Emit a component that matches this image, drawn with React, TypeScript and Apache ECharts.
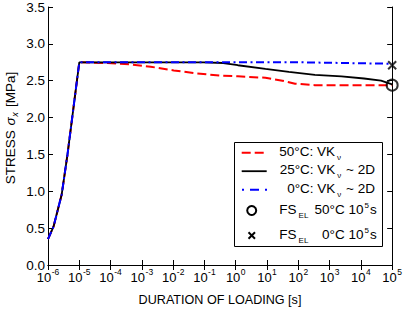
import React, { useEffect, useRef } from 'react';
import * as echarts from 'echarts';

const FONT = '"Liberation Sans", Arial, Helvetica, sans-serif';

// tick labels
const xTickExponents = [-6, -5, -4, -3, -2, -1, 0, 1, 2, 3, 4, 5];
const yTickValues = [0, 0.5, 1, 1.5, 2, 2.5, 3, 3.5];

// 50°C: VKν
const time50 = [1e-6, 1.5e-6, 2.75e-6, 4.2e-6, 1e-5, 8e-5, 4.5e-4, 1.9e-3, 1.05e-2, 5.5e-2, 0.31, 1.17, 8.9, 31, 79, 340, 1e5];
const stress50 = [0.35, 0.52, 0.96, 1.5, 2.75, 2.74, 2.72, 2.69, 2.64, 2.6, 2.57, 2.56, 2.54, 2.5, 2.46, 2.44, 2.44];

// 25°C: VKν ~ 2D
const time25 = [1e-6, 1.5e-6, 2.75e-6, 4.2e-6, 1e-5, 0.093, 0.4, 1.17, 8.9, 50, 340, 2400, 12600, 44000, 1e5];
const stress25 = [0.35, 0.52, 0.96, 1.5, 2.75, 2.75, 2.74, 2.71, 2.66, 2.62, 2.58, 2.56, 2.53, 2.5, 2.45];

// 0°C: VKν ~ 2D
const time0 = [1e-6, 1.5e-6, 2.75e-6, 4.2e-6, 1e-5, 100, 1e5];
const stress0 = [0.35, 0.52, 0.96, 1.5, 2.75, 2.75, 2.73];

// FS_EL points
const fsel50Time = [1e5];
const fsel50Stress = [2.44];
const fsel0Time = [1e5];
const fsel0Stress = [2.71];

const zip = (a: number[], b: number[]) => a.map((v, i) => [v, b[i]]);

const richLegend = {
  m: { fontSize: 13.5, fontFamily: FONT, lineHeight: 16, verticalAlign: 'top', padding: [3, 0, 0, 0], color: '#000' },
  sub: { fontSize: 8, fontFamily: FONT, lineHeight: 9, verticalAlign: 'top', padding: [12, 1, 0, 2], color: '#000' },
  sup: { fontSize: 8, fontFamily: FONT, lineHeight: 9, verticalAlign: 'top', padding: [2.5, 1, 0, 1], color: '#000' },
};

export default function App() {
  const ref = useRef<HTMLDivElement>(null);
  useEffect(() => {
    if (!ref.current) return;
    const chart = echarts.init(ref.current, null, { renderer: 'svg' });
    const axisLine = { show: true, lineStyle: { color: '#000', width: 1 } };
    const axisTick = { show: true, inside: true, length: 5, lineStyle: { color: '#000', width: 1 } };
    const xLog = {
      type: 'log',
      logBase: 10,
      min: Math.pow(10, xTickExponents[0]),
      max: Math.pow(10, xTickExponents[xTickExponents.length - 1]),
      interval: 1,
      axisLine,
      axisTick,
      minorTick: { show: false },
      splitLine: { show: false },
    };
    const yVal = {
      type: 'value',
      min: yTickValues[0],
      max: yTickValues[yTickValues.length - 1],
      interval: 0.5,
      axisLine,
      axisTick,
      splitLine: { show: false },
    };
    const textLeft = 279.3;
    const rows = [152.7, 171.2, 189.7, 210.5, 235.5];
    const option: any = {
      animation: false,
      grid: { left: 48, right: 9, top: 5, bottom: 46, containLabel: false },
      xAxis: [
        {
          ...xLog,
          position: 'bottom',
          axisLabel: {
            margin: 2,
            color: '#000',
            formatter: (v: number) => `{m|10}{sup|${Math.round(Math.log10(v))}}`,
            rich: {
              m: { fontSize: 13, fontFamily: FONT, lineHeight: 14, verticalAlign: 'top', padding: [4, 0, 0, 0], color: '#000' },
              sup: { fontSize: 8.5, fontFamily: FONT, lineHeight: 9, verticalAlign: 'top', padding: [0, 0, 0, 0.5], color: '#000' },
            },
            showMinLabel: true,
            showMaxLabel: true,
          },
        },
        { ...xLog, position: 'top', axisLabel: { show: false } },
      ],
      yAxis: [
        {
          ...yVal,
          position: 'left',
          axisLabel: {
            margin: 3,
            color: '#000',
            fontSize: 13.5,
            lineHeight: 11,
            fontFamily: FONT,
            formatter: (v: number) => v.toFixed(1),
          },
        },
        { ...yVal, position: 'right', axisLabel: { show: false } },
      ],
      series: [
        {
          type: 'line',
          name: '50°C: VKν',
          data: zip(time50, stress50),
          symbol: 'none',
          lineStyle: { color: '#ff0000', width: 2, type: [9, 4] },
          z: 2,
        },
        {
          type: 'line',
          name: '25°C: VKν ~ 2D',
          data: zip(time25, stress25),
          symbol: 'none',
          lineStyle: { color: '#000', width: 1.8, type: 'solid' },
          z: 3,
        },
        {
          type: 'line',
          name: '0°C: VKν ~ 2D',
          data: zip(time0, stress0),
          symbol: 'none',
          lineStyle: { color: '#0000ff', width: 2, type: [8, 3.5, 2, 3.5] },
          z: 4,
        },
        {
          type: 'scatter',
          name: 'FS_EL 50°C',
          data: zip(fsel50Time, fsel50Stress),
          symbol: 'circle',
          symbolSize: 11,
          clip: false,
          itemStyle: { color: 'rgba(0,0,0,0)', borderColor: '#000', borderWidth: 2 },
          z: 5,
        },
        {
          type: 'scatter',
          name: 'FS_EL 0°C',
          data: zip(fsel0Time, fsel0Stress),
          symbol: 'path://M0,0L8,8M8,0L0,8',
          symbolSize: 8,
          clip: false,
          itemStyle: { color: 'rgba(0,0,0,0)', borderColor: '#000', borderWidth: 2 },
          z: 5,
        },
      ],
      graphic: [
        {
          type: 'text',
          x: 220,
          y: 300,
          style: {
            text: 'DURATION OF LOADING [s]',
            fontSize: 12.6,
            fontFamily: FONT,
            fill: '#000',
            align: 'center',
            verticalAlign: 'middle',
          },
        },
        {
          type: 'text',
          x: 8.5,
          y: 128,
          rotation: Math.PI / 2,
          style: {
            text: '{m|STRESS }{i|σ}{isub|x}{m| [MPa]}',
            align: 'center',
            verticalAlign: 'middle',
            rich: {
              m: { fontSize: 13.5, fontFamily: FONT, lineHeight: 15, verticalAlign: 'top', padding: [2, 0, 0, 0], fill: '#000' },
              i: { fontSize: 13.5, fontFamily: FONT, fontStyle: 'italic', lineHeight: 15, verticalAlign: 'top', padding: [2, 0, 0, 1], fill: '#000' },
              isub: { fontSize: 9, fontFamily: FONT, fontStyle: 'italic', lineHeight: 10, verticalAlign: 'top', padding: [9, 1.5, 0, 0.5], fill: '#000' },
            },
          },
        },
        {
          type: 'rect',
          shape: { x: 234.5, y: 142.5, width: 148, height: 104 },
          style: { fill: '#fff', stroke: '#000', lineWidth: 1 },
          z: 10,
        },
        {
          type: 'line',
          shape: { x1: 241.7, y1: rows[0], x2: 266.7, y2: rows[0] },
          style: { stroke: '#ff0000', lineWidth: 2, lineDash: [9, 4] },
          z: 11,
        },
        {
          type: 'line',
          shape: { x1: 241.7, y1: rows[1], x2: 266.7, y2: rows[1] },
          style: { stroke: '#000', lineWidth: 1.8 },
          z: 11,
        },
        {
          type: 'line',
          shape: { x1: 242, y1: rows[2], x2: 268, y2: rows[2] },
          style: { stroke: '#0000ff', lineWidth: 2, lineDash: [2, 6, 9, 6] },
          z: 11,
        },
        {
          type: 'circle',
          shape: { cx: 251.7, cy: rows[3], r: 4.5 },
          style: { fill: 'none', stroke: '#000', lineWidth: 2 },
          z: 11,
        },
        {
          type: 'line',
          shape: { x1: 248.5, y1: rows[4] - 3.2, x2: 255, y2: rows[4] + 3.2 },
          style: { stroke: '#000', lineWidth: 2 },
          z: 11,
        },
        {
          type: 'line',
          shape: { x1: 255, y1: rows[4] - 3.2, x2: 248.5, y2: rows[4] + 3.2 },
          style: { stroke: '#000', lineWidth: 2 },
          z: 11,
        },
        {
          type: 'text',
          x: textLeft,
          y: rows[0] - 11.5,
          style: { text: '{m|50°C: VK}{sub|ν}', align: 'left', verticalAlign: 'top', rich: richLegend },
          z: 11,
        },
        {
          type: 'text',
          x: 375,
          y: rows[1] - 11.5,
          style: { text: '{m|25°C: VK}{sub|ν}{m| ~ 2D}', align: 'right', verticalAlign: 'top', rich: richLegend },
          z: 11,
        },
        {
          type: 'text',
          x: 375,
          y: rows[2] - 11.5,
          style: { text: '{m|0°C: VK}{sub|ν}{m| ~ 2D}', align: 'right', verticalAlign: 'top', rich: richLegend },
          z: 11,
        },
        {
          type: 'text',
          x: textLeft,
          y: rows[3] - 11.5,
          style: { text: '{m|FS}{sub|EL}', align: 'left', verticalAlign: 'top', rich: richLegend },
          z: 11,
        },
        {
          type: 'text',
          x: 376.7,
          y: rows[3] - 11.5,
          style: { text: '{m|50°C 10}{sup|5}{m|s}', align: 'right', verticalAlign: 'top', rich: richLegend },
          z: 11,
        },
        {
          type: 'text',
          x: textLeft,
          y: rows[4] - 11.5,
          style: { text: '{m|FS}{sub|EL}', align: 'left', verticalAlign: 'top', rich: richLegend },
          z: 11,
        },
        {
          type: 'text',
          x: 376.7,
          y: rows[4] - 11.5,
          style: { text: '{m|0°C 10}{sup|5}{m|s}', align: 'right', verticalAlign: 'top', rich: richLegend },
          z: 11,
        },
      ],
    };
    chart.setOption(option);
    return () => chart.dispose();
  }, []);
  return <div ref={ref} style={{ width: 405, height: 311, position: 'absolute', left: 0, top: 0 }} />;
}
